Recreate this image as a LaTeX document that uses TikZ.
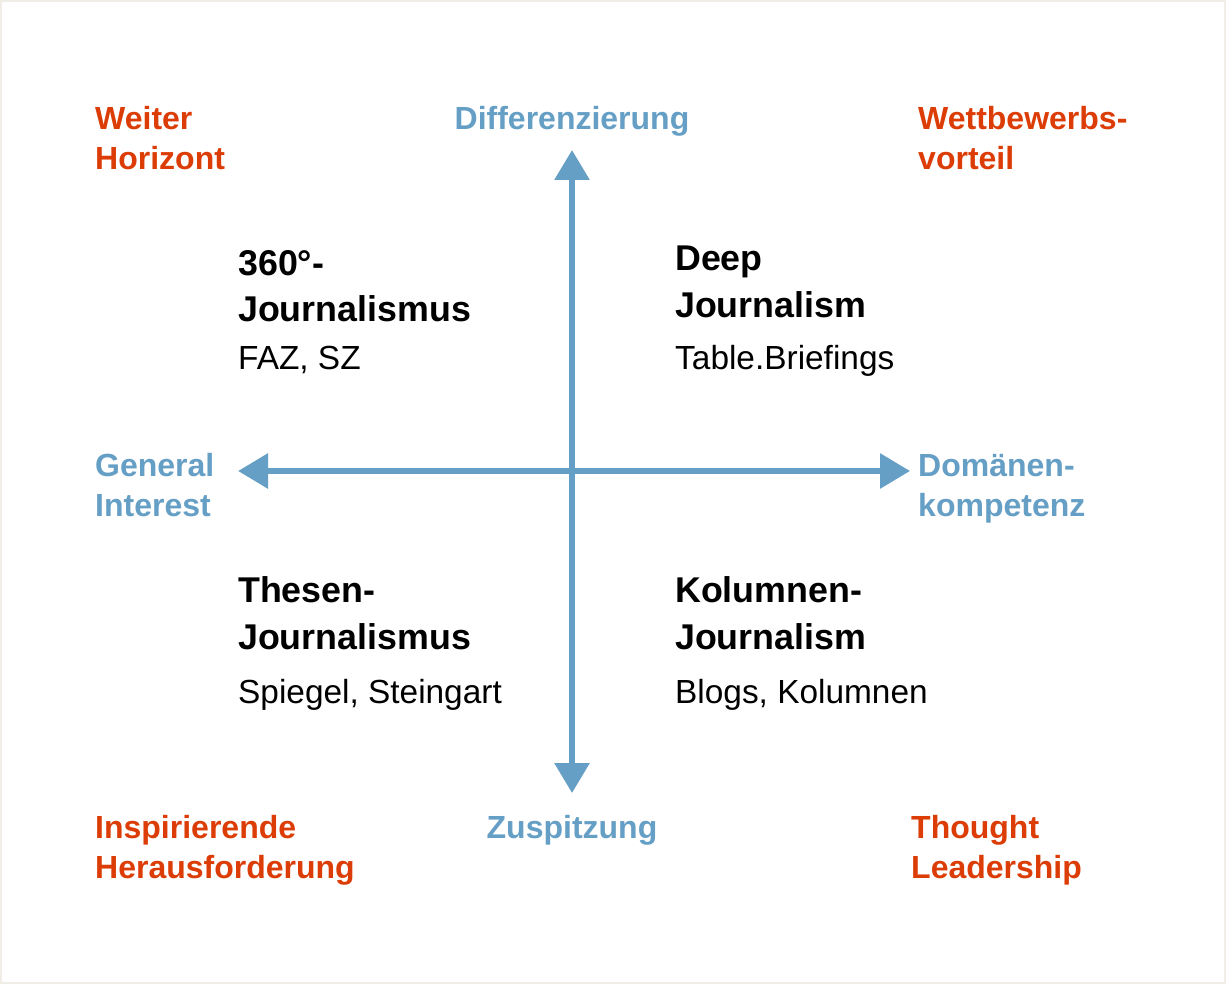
\documentclass[tikz,border=0pt]{standalone}
\usepackage{fontspec}
\setmainfont{Liberation Sans}
\usetikzlibrary{arrows.meta}

\definecolor{axisblue}{HTML}{659FC5}
\definecolor{goalred}{HTML}{DC3D06}
\definecolor{framegray}{HTML}{EFEDE6}

\tikzset{
  goal/.style={anchor=base west, align=left, inner sep=0pt, text=goalred,
    font=\fontsize{32}{40}\selectfont\bfseries},
  axislabel/.style={anchor=base west, align=left, inner sep=0pt, text=axisblue,
    font=\fontsize{32}{40}\selectfont\bfseries},
  kind/.style={anchor=base west, align=left, inner sep=0pt, text=black,
    font=\fontsize{35.8}{47}\selectfont\bfseries},
  example/.style={anchor=base west, inner sep=0pt, text=black,
    font=\fontsize{33.4}{40}\selectfont},
  axis/.style={draw=axisblue, line width=6pt,
    arrows={Triangle[width=34pt,length=30pt,fill=axisblue]-Triangle[width=34pt,length=30pt,fill=axisblue]}}
}

\begin{document}
\begin{tikzpicture}[x=1pt,y=-1pt]
            \fill[framegray] (0,0) rectangle (1226,984);
            \fill[white] (2,2) rectangle (1224,982);
            \useasboundingbox (0,0) rectangle (1226,984);

            \coordinate (top) at (572,150);
            \coordinate (bottom) at (572,793);
            \coordinate (left) at (238,471);
            \coordinate (right) at (910,471);

            \draw[axis] (top) to (bottom); \draw[axis] (left) to (right);

            % base anchor of a two-line node sits on its last line
            \node[goal] (weiter) at (95,170) {Weiter\\Horizont};
            \node[goal] (wettbewerb) at (918,170) {Wettbewerbs-\\vorteil};
            \node[goal] (inspirierend) at (95,878) {Inspirierende\\Herausforderung};
            \node[goal] (thought) at (911,878) {Thought\\Leadership};

            \node[axislabel, anchor=base] (differenz) at (572,130) {Differenzierung};
            \node[axislabel, anchor=base] (zuspitz) at (572,838) {Zuspitzung};
            \node[axislabel] (general) at (95,516) {General\\Interest};
            \node[axislabel] (domaene) at (918,516) {Domänen-\\kompetenz};

            \node[kind] (rund) at (238,322) {360°-\\Journalismus};
            \node[example] (faz) at (238,369) {FAZ, SZ};
            \node[kind] (deep) at (675,317) {Deep\\Journalism};
            \node[example] (table) at (675,369) {Table.Briefings};
            \node[kind] (thesen) at (238,649) {Thesen-\\Journalismus};
            \node[example] (spiegel) at (238,703) {Spiegel, Steingart};
            \node[kind] (kolumne) at (675,649) {Kolumnen-\\Journalism};
            \node[example] (blogs) at (675,703) {Blogs, Kolumnen};
        \end{tikzpicture}
\end{document}
